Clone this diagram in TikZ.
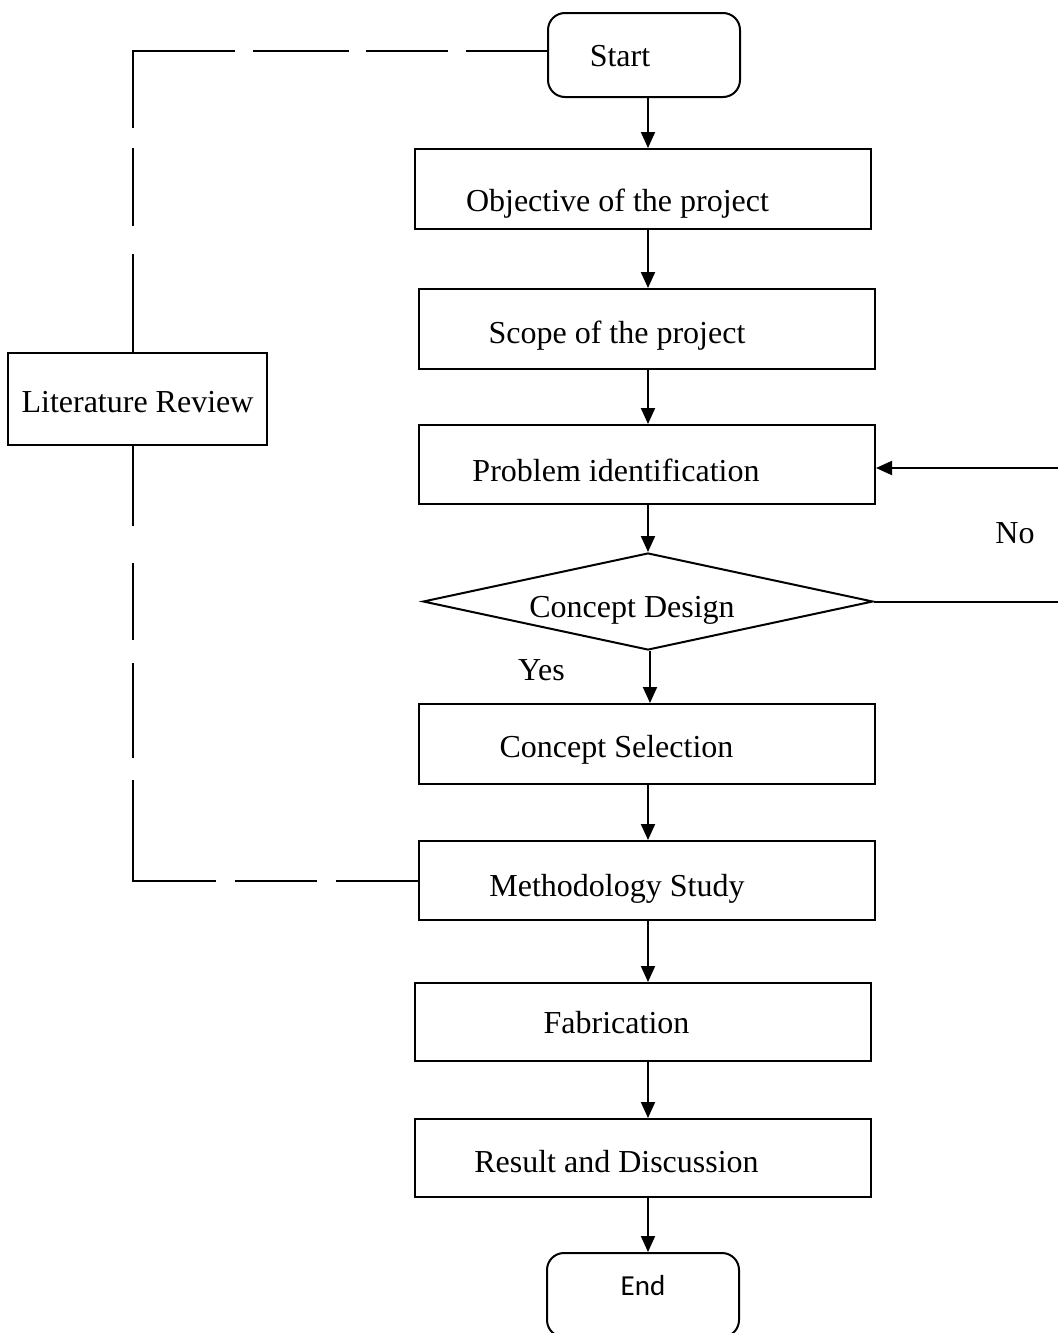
\documentclass[tikz,border=0pt]{standalone}
\usepackage{fontspec}
\setmainfont{Liberation Serif}
\newfontfamily\carlitofont{Carlito}
\usetikzlibrary{arrows.meta,shapes.geometric}
\tikzset{
  procbox/.style={draw, line width=1pt, rectangle, inner sep=0pt,
    font=\fontsize{16pt}{19pt}\selectfont, text depth=0pt},
  termbox/.style={procbox, rounded corners=8.5pt, minimum width=96pt, minimum height=42pt},
  widebox/.style={procbox, minimum width=228pt},
  tpos/.style 2 args={text height=#1, execute at end node={\hspace*{#2}}},
  flow/.style={line width=1pt, -{Triangle[length=8pt,width=7pt]}},
  lbl/.style={inner sep=0pt, anchor=base, font=\fontsize{16pt}{19pt}\selectfont},
  topdash/.style={line width=1pt, dash pattern=on 49pt off 14pt on 39pt off 10pt on 89.5pt off 9pt on 48pt off 8.5pt on 41pt off 9pt on 60pt},
  botdash/.style={line width=1pt, dash pattern=on 40pt off 18.5pt on 38.5pt off 11.5pt on 47.5pt off 11pt on 92pt off 9.5pt on 41pt off 9.5pt on 60pt}
}
\begin{document}
\begin{tikzpicture}[x=0.5pt,y=-0.5pt]
\useasboundingbox (0,0) rectangle (1058,1333);
\clip (0,0) rectangle (1058,1333);
% nodes
\node[termbox, tpos={11pt}{24pt}] (start) at (644,55) {Start};
\node[widebox, minimum height=40pt, tpos={22pt}{25.5pt}] (obj) at (643,189) {Objective of the project};
\node[widebox, minimum height=40pt, tpos={14pt}{30pt}] (scope) at (647,329) {Scope of the project};
\node[widebox, minimum height=39.5pt, tpos={16.5pt}{31pt}] (prob) at (647,464.5) {Problem identification};
\node[procbox, diamond, aspect=4.64, minimum width=225pt, minimum height=48.5pt, tpos={15.5pt}{16pt}] (dia) at (648,601.5) {Concept Design};
\node[widebox, minimum height=40pt, tpos={13pt}{30.5pt}] (sel) at (647,744) {Concept Selection};
\node[widebox, minimum height=39.5pt, tpos={15.5pt}{30pt}] (meth) at (647,880.5) {Methodology Study};
\node[widebox, minimum height=39pt, tpos={11pt}{26.5pt}] (fab) at (643,1022) {Fabrication};
\node[widebox, minimum height=39pt, tpos={14pt}{26.5pt}] (res) at (643,1158) {Result and Discussion};
\node[termbox, font=\carlitofont\fontsize{14.5pt}{17pt}\selectfont, tpos={0pt}{0pt}] (end) at (643,1295) {End};
\node[procbox, minimum width=129.5pt, minimum height=46pt, tpos={13pt}{0pt}] (lit) at (137.5,399) {Literature Review};
\node[lbl] (yes) at (541.5,680) {Yes};
\node[lbl] (no) at (1015,543) {No};
% helper coordinates
\coordinate (ax) at (648,0);
\coordinate (ax2) at (650,0);
\coordinate (ctop) at (133,51);
\coordinate (cbot) at (133,881);
\coordinate (rx) at (1075,468);
% flow arrows
\draw[flow] (start.south -| ax) -- (obj.north -| ax);
\draw[flow] (obj.south -| ax) -- (scope.north -| ax);
\draw[flow] (scope.south -| ax) -- (prob.north -| ax);
\draw[flow] (prob.south -| ax) -- (dia.north);
\draw[flow] (dia.south -| ax2) -- (sel.north -| ax2);
\draw[flow] (sel.south -| ax) -- (meth.north -| ax);
\draw[flow] (meth.south -| ax) -- (fab.north -| ax);
\draw[flow] (fab.south -| ax) -- (res.north -| ax);
\draw[flow] (res.south -| ax) -- (end.north -| ax);
% No loop
\draw[flow] (dia.east) -- (dia.east -| rx) -- (rx) -- (rx -| prob.east);
% literature review dashed links
\draw[topdash] (lit.north -| ctop) -- (ctop) -- (ctop -| start.west);
\draw[botdash] (lit.south -| cbot) -- (cbot) -- (cbot -| meth.west);
\end{tikzpicture}
\end{document}
